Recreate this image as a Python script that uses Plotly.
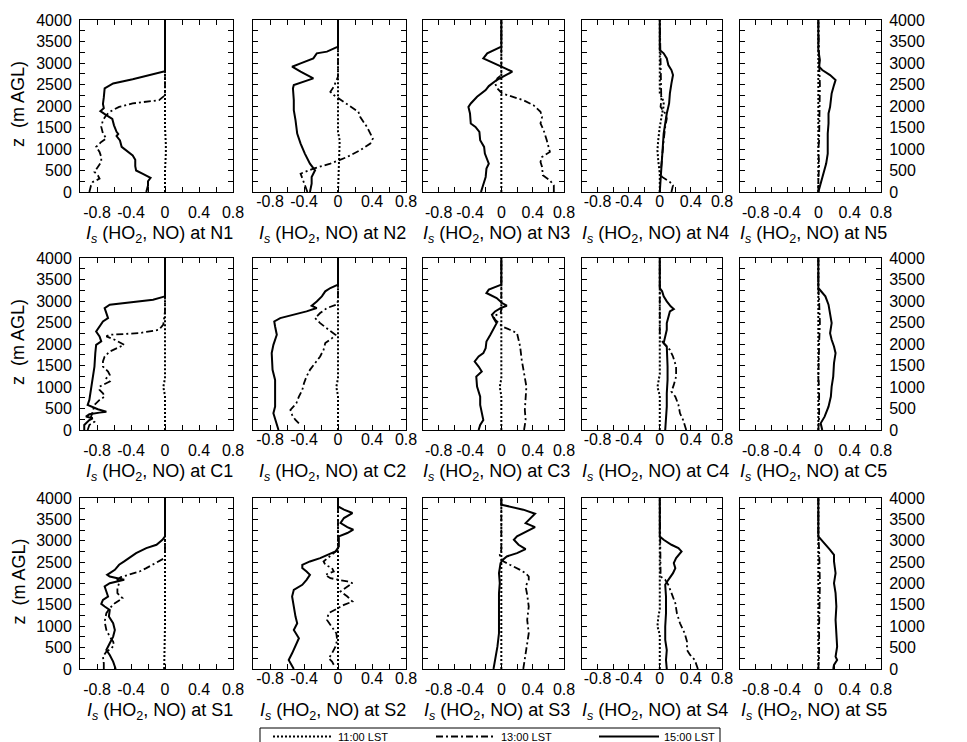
import plotly.graph_objects as go

# ---------------- data (height z in m AGL, I_s values) ----------------
TIMES = ["11:00 LST", "13:00 LST", "15:00 LST"]
ROW_NAMES = ["N", "C", "S"]
XTICKS = [-0.8, -0.4, 0, 0.4, 0.8]
XTICKTEXT = ["-0.8", "-0.4", "0", "0.4", "0.8"]
YTICKS = [0, 500, 1000, 1500, 2000, 2500, 3000, 3500, 4000]
YTICKTEXT = [str(v) for v in YTICKS]

# ---- N1
N1_z11 = [0, 500, 900, 1100, 1500, 4000]
N1_is11 = [0, 0, 0.01, 0.01, 0, 0]
N1_z13 = [0, 155, 233, 310, 388, 466, 583, 700, 816, 932, 1049, 1165, 1243, 1360, 1515, 1670, 1790, 1865, 1980, 2060, 2137, 2250, 4000]
N1_is13 = [-0.89, -0.87, -0.85, -0.77, -0.79, -0.83, -0.79, -0.75, -0.75, -0.77, -0.81, -0.75, -0.69, -0.73, -0.75, -0.73, -0.69, -0.65, -0.54, -0.38, -0.07, 0, 0]
N1_z15 = [0, 150, 250, 330, 420, 500, 600, 750, 850, 950, 1050, 1200, 1300, 1350, 1400, 1550, 1700, 1800, 1880, 1950, 2050, 2200, 2410, 2525, 2620, 2810, 4000]
N1_is15 = [-0.22, -0.20, -0.20, -0.17, -0.26, -0.34, -0.35, -0.35, -0.38, -0.44, -0.51, -0.53, -0.57, -0.55, -0.57, -0.60, -0.62, -0.70, -0.76, -0.72, -0.73, -0.72, -0.71, -0.61, -0.38, 0, 0]
# ---- N2
N2_z11 = [0, 1000, 1200, 1400, 4000]
N2_is11 = [0, 0.01, 0.02, 0, 0]
N2_z13 = [0, 117, 233, 350, 427, 544, 660, 816, 971, 1127, 1243, 1515, 1748, 1865, 1980, 2137, 2253, 2331, 2447, 2680, 4000]
N2_is13 = [-0.36, -0.38, -0.40, -0.42, -0.44, -0.29, -0.09, 0.11, 0.26, 0.38, 0.41, 0.34, 0.26, 0.24, 0.15, 0.03, -0.05, -0.09, -0.05, 0, 0]
N2_z15 = [0, 194, 350, 505, 660, 893, 1127, 1360, 1670, 1904, 2137, 2408, 2486, 2564, 2642, 2797, 2914, 2991, 3108, 3225, 3264, 3380, 4000]
N2_is15 = [-0.33, -0.31, -0.31, -0.27, -0.33, -0.39, -0.44, -0.48, -0.50, -0.52, -0.52, -0.53, -0.52, -0.39, -0.29, -0.44, -0.54, -0.44, -0.29, -0.25, -0.13, 0, 0]
# ---- N3
N3_z11 = [0, 4000]
N3_is11 = [0, 0]
N3_z13 = [0, 155, 272, 388, 583, 700, 816, 932, 1204, 1437, 1593, 1748, 1865, 2020, 2137, 2214, 2292, 2408, 2525, 2642, 2720, 4000]
N3_is13 = [0.67, 0.67, 0.62, 0.53, 0.52, 0.50, 0.52, 0.62, 0.58, 0.54, 0.50, 0.52, 0.50, 0.41, 0.28, 0.16, 0.01, -0.05, -0.08, -0.05, 0, 0]
N3_z15 = [0, 194, 350, 544, 660, 893, 1049, 1204, 1399, 1515, 1593, 1826, 1980, 2059, 2214, 2370, 2463, 2603, 2720, 2797, 2875, 2991, 3108, 3225, 3318, 3380, 4000]
N3_is15 = [-0.26, -0.23, -0.20, -0.19, -0.16, -0.21, -0.22, -0.27, -0.28, -0.33, -0.39, -0.40, -0.42, -0.39, -0.31, -0.20, -0.16, -0.06, 0.07, 0.14, 0.05, -0.10, -0.23, -0.18, -0.06, 0, 0]
# ---- N4
N4_z11 = [0, 427, 738, 971, 1204, 1515, 1826, 2000, 2100, 2300, 4000]
N4_is11 = [0, 0, -0.02, -0.03, -0.02, 0, 0.03, 0.05, 0.05, 0, 0]
N4_z13 = [0, 155, 233, 350, 427, 893, 1204, 1515, 1710, 1826, 1980, 2137, 3000, 4000]
N4_is13 = [0.15, 0.17, 0.13, 0.03, 0.01, 0.03, 0.05, 0.07, 0.09, 0.07, 0.01, 0.02, 0.01, 0]
N4_z15 = [0, 272, 583, 1049, 1360, 1593, 1826, 2059, 2292, 2525, 2720, 2836, 2953, 3108, 3225, 3302, 4000]
N4_is15 = [0, 0.01, 0.02, 0.03, 0.05, 0.07, 0.09, 0.12, 0.13, 0.15, 0.17, 0.15, 0.11, 0.09, 0.05, 0, 0]
# ---- N5
N5_z11 = [0, 4000]
N5_is11 = [0, 0]
N5_z13 = [0, 300, 600, 1000, 1200, 2000, 2500, 3000, 4000]
N5_is13 = [0, 0, 0.01, 0, 0.01, 0.02, 0.02, 0.01, 0]
N5_z15 = [0, 194, 350, 505, 660, 893, 1127, 1360, 1593, 1826, 1980, 2292, 2486, 2603, 2720, 2836, 2914, 3070, 3300, 4000]
N5_is15 = [0, 0.03, 0.05, 0.08, 0.10, 0.12, 0.12, 0.12, 0.13, 0.13, 0.15, 0.17, 0.20, 0.22, 0.15, 0.05, 0.01, 0.02, 0, 0]

# ---- C1
C1_z11 = [0, 800, 1000, 1200, 4000]
C1_is11 = [0, 0, -0.02, 0, 0]
C1_z13 = [0, 117, 194, 311, 427, 583, 699, 777, 855, 932, 1010, 1127, 1204, 1282, 1360, 1476, 1593, 1710, 1826, 1904, 1981, 2098, 2176, 2214, 2253, 2331, 2450, 2758, 4000]
C1_is13 = [-0.91, -0.89, -0.83, -0.87, -0.85, -0.83, -0.77, -0.71, -0.73, -0.77, -0.77, -0.65, -0.69, -0.65, -0.67, -0.73, -0.73, -0.71, -0.65, -0.56, -0.48, -0.59, -0.69, -0.65, -0.30, -0.07, -0.02, 0, 0]
C1_z15 = [0, 117, 233, 272, 311, 365, 404, 427, 482, 544, 583, 699, 932, 1165, 1476, 1787, 1981, 2059, 2176, 2292, 2408, 2525, 2603, 2720, 2836, 2914, 2968, 3030, 3108, 4000]
C1_is15 = [-0.95, -0.95, -0.89, -0.85, -0.93, -0.89, -0.77, -0.69, -0.79, -0.87, -0.91, -0.89, -0.87, -0.85, -0.83, -0.82, -0.81, -0.75, -0.77, -0.81, -0.77, -0.73, -0.67, -0.69, -0.71, -0.65, -0.38, -0.14, 0, 0]
# ---- C2
C2_z11 = [0, 800, 1000, 1200, 4000]
C2_is11 = [0, 0, -0.02, 0, 0]
C2_z13 = [155, 233, 350, 466, 622, 777, 932, 1088, 1243, 1399, 1554, 1710, 1865, 2020, 2137, 2214, 2331, 2486, 2603, 2720, 2836, 2914, 3000, 4000]
C2_is13 = [-0.46, -0.50, -0.54, -0.56, -0.49, -0.46, -0.42, -0.40, -0.37, -0.33, -0.27, -0.21, -0.17, -0.15, -0.07, -0.03, -0.11, -0.21, -0.27, -0.21, -0.13, -0.02, 0, 0]
C2_z15 = [0, 233, 388, 544, 855, 1165, 1399, 1787, 1981, 2214, 2408, 2525, 2603, 2680, 2758, 2836, 2890, 2991, 3108, 3225, 3302, 3380, 4000]
C2_is15 = [-0.70, -0.74, -0.76, -0.74, -0.74, -0.74, -0.77, -0.78, -0.76, -0.72, -0.74, -0.75, -0.68, -0.52, -0.37, -0.25, -0.31, -0.25, -0.19, -0.15, -0.09, 0, 0]
# ---- C3
C3_z11 = [0, 800, 1000, 1200, 4000]
C3_is11 = [0, 0, -0.02, 0, 0]
C3_z13 = [0, 233, 466, 699, 1010, 1321, 1632, 1942, 2137, 2253, 2331, 2408, 2486, 2564, 2642, 2720, 2797, 4000]
C3_is13 = [0.29, 0.31, 0.30, 0.31, 0.32, 0.29, 0.26, 0.24, 0.22, 0.20, 0.11, 0.01, -0.03, -0.08, -0.10, -0.01, 0, 0]
C3_z15 = [0, 117, 233, 388, 583, 777, 1010, 1243, 1360, 1476, 1593, 1710, 1787, 1904, 2059, 2214, 2370, 2486, 2603, 2680, 2758, 2836, 2890, 2952, 3069, 3186, 3263, 3341, 3380, 4000]
C3_is15 = [-0.29, -0.27, -0.23, -0.25, -0.27, -0.27, -0.31, -0.32, -0.25, -0.29, -0.34, -0.29, -0.23, -0.20, -0.19, -0.14, -0.10, -0.06, -0.10, -0.12, -0.08, -0.01, 0.07, 0.01, -0.06, -0.19, -0.16, -0.06, 0, 0]
# ---- C4
C4_z11 = [0, 800, 1000, 1100, 1300, 4000]
C4_is11 = [0, 0, -0.03, -0.02, 0, 0]
C4_z13 = [0, 117, 233, 388, 583, 777, 894, 1049, 1243, 1476, 1710, 1865, 1981, 2098, 2176, 4000]
C4_is13 = [0.34, 0.32, 0.30, 0.26, 0.24, 0.20, 0.15, 0.18, 0.21, 0.21, 0.17, 0.13, 0.07, 0.01, 0, 0]
C4_z15 = [0, 233, 544, 855, 1165, 1476, 1787, 1942, 2020, 2176, 2331, 2486, 2642, 2758, 2813, 2875, 2991, 3108, 3225, 3302, 4000]
C4_is15 = [0.07, 0.08, 0.09, 0.09, 0.10, 0.10, 0.09, 0.09, 0.05, 0.07, 0.09, 0.09, 0.11, 0.13, 0.18, 0.14, 0.09, 0.05, 0.03, 0, 0]
# ---- C5
C5_z11 = [0, 4000]
C5_is11 = [0, 0]
C5_z13 = [0, 300, 1000, 1200, 2000, 2500, 3000, 3300, 4000]
C5_is13 = [0, 0.01, 0.01, 0, 0.01, 0.02, 0.01, 0, 0]
C5_z15 = [0, 155, 311, 544, 777, 1010, 1243, 1554, 1787, 1942, 2098, 2253, 2486, 2720, 2914, 3108, 3225, 3302, 4000]
C5_is15 = [0.05, 0.03, 0.08, 0.13, 0.16, 0.17, 0.19, 0.20, 0.22, 0.20, 0.17, 0.15, 0.17, 0.15, 0.13, 0.09, 0.03, 0, 0]

# ---- S1
S1_z11 = [0, 1000, 4000]
S1_is11 = [-0.01, 0, 0]
S1_z13 = [0, 133, 289, 406, 484, 563, 641, 758, 914, 1109, 1305, 1422, 1539, 1656, 1773, 1891, 2008, 2086, 2148, 2203, 2281, 2360, 2477, 2600, 4000]
S1_is13 = [-0.72, -0.72, -0.73, -0.69, -0.63, -0.60, -0.61, -0.65, -0.69, -0.71, -0.69, -0.65, -0.59, -0.50, -0.56, -0.56, -0.54, -0.56, -0.52, -0.44, -0.30, -0.22, -0.11, 0, 0]
S1_z15 = [0, 172, 328, 445, 602, 758, 914, 1070, 1227, 1383, 1461, 1523, 1617, 1695, 1813, 1930, 2008, 2047, 2086, 2164, 2203, 2320, 2438, 2516, 2594, 2711, 2828, 2906, 3023, 3100, 4000]
S1_is15 = [-0.58, -0.61, -0.65, -0.69, -0.65, -0.61, -0.59, -0.61, -0.66, -0.65, -0.71, -0.75, -0.73, -0.67, -0.69, -0.71, -0.65, -0.54, -0.48, -0.65, -0.68, -0.59, -0.54, -0.48, -0.42, -0.34, -0.22, -0.10, -0.03, 0, 0]
# ---- S2
S2_z11 = [0, 4000]
S2_is11 = [0, 0]
S2_z13 = [100, 172, 250, 367, 523, 680, 836, 992, 1148, 1305, 1422, 1500, 1578, 1695, 1813, 1930, 2008, 2047, 2125, 2203, 2281, 2360, 2438, 2516, 2633, 2711, 2789, 4000]
S2_is13 = [-0.05, -0.07, -0.11, -0.07, -0.03, -0.01, -0.02, -0.07, -0.13, -0.11, -0.01, 0.07, 0.17, 0.11, 0.03, 0.11, 0.17, 0.11, -0.09, -0.15, -0.05, -0.07, -0.15, -0.17, -0.09, -0.05, 0, 0]
S2_z15 = [0, 211, 367, 602, 719, 914, 1070, 1227, 1461, 1695, 1852, 1969, 2086, 2203, 2281, 2360, 2438, 2516, 2594, 2672, 2750, 2867, 3023, 3101, 3180, 3258, 3320, 3414, 3531, 3648, 3727, 3805, 4000]
S2_is15 = [-0.52, -0.58, -0.54, -0.48, -0.46, -0.52, -0.48, -0.50, -0.52, -0.54, -0.52, -0.42, -0.37, -0.33, -0.37, -0.42, -0.42, -0.33, -0.21, -0.11, -0.03, 0.01, 0.01, 0.01, 0.11, 0.18, 0.11, 0.03, 0.07, 0.17, 0.07, 0, 0]
# ---- S3
S3_z11 = [0, 4000]
S3_is11 = [0, 0]
S3_z13 = [0, 367, 523, 836, 1148, 1461, 1734, 1930, 2086, 2164, 2242, 2320, 2438, 2516, 2594, 2672, 2789, 4000]
S3_is13 = [0.28, 0.31, 0.33, 0.35, 0.33, 0.35, 0.33, 0.31, 0.35, 0.35, 0.31, 0.24, 0.11, 0.03, -0.01, -0.02, 0, 0]
S3_z15 = [0, 211, 523, 836, 1148, 1461, 1773, 2008, 2242, 2360, 2477, 2555, 2633, 2711, 2805, 2906, 3023, 3101, 3219, 3320, 3414, 3531, 3633, 3727, 3805, 3844, 4000]
S3_is15 = [-0.10, -0.08, -0.05, -0.03, -0.03, -0.03, -0.03, -0.02, -0.03, -0.02, -0.01, 0.02, 0.07, 0.20, 0.31, 0.22, 0.16, 0.20, 0.33, 0.43, 0.31, 0.37, 0.43, 0.28, 0.11, 0, 0]
# ---- S4
S4_z11 = [0, 800, 1000, 1200, 1400, 4000]
S4_is11 = [0, 0, -0.03, -0.02, 0, 0]
S4_z13 = [0, 133, 211, 328, 445, 641, 836, 1070, 1305, 1539, 1773, 1969, 2086, 2164, 2300, 4000]
S4_is13 = [0.49, 0.47, 0.45, 0.39, 0.35, 0.35, 0.32, 0.26, 0.22, 0.20, 0.15, 0.11, 0.07, 0.01, 0.01, 0]
S4_z15 = [0, 211, 445, 680, 992, 1305, 1695, 1969, 2086, 2242, 2360, 2477, 2594, 2672, 2750, 2828, 2906, 3023, 3101, 4000]
S4_is15 = [0.09, 0.08, 0.09, 0.07, 0.07, 0.08, 0.08, 0.07, 0.11, 0.17, 0.20, 0.18, 0.21, 0.25, 0.28, 0.24, 0.15, 0.05, 0, 0]
# ---- S5
S5_z11 = [0, 4000]
S5_is11 = [0, 0]
S5_z13 = [0, 300, 1000, 2000, 2800, 3100, 4000]
S5_is13 = [0, 0.01, 0.01, 0.02, 0.01, 0, 0]
S5_z15 = [0, 94, 211, 289, 523, 836, 1148, 1461, 1773, 2008, 2242, 2516, 2672, 2789, 2906, 3023, 3101, 4000]
S5_is15 = [0.19, 0.20, 0.24, 0.22, 0.24, 0.23, 0.22, 0.23, 0.22, 0.20, 0.22, 0.20, 0.20, 0.15, 0.09, 0.03, 0, 0]

# ---------------- layout geometry (pixels) ----------------
W, H = 967, 742
COL_PX = [(80, 233), (253, 406), (423, 564), (582, 722), (740, 881)]
ROW_PX = [(20, 192), (258, 430), (498, 669)]

STYLES = [
    dict(color="black", width=2, dash="2px,2px"),
    dict(color="black", width=1.8, dash="7px,3px,2px,3px"),
    dict(color="black", width=2, dash="solid"),
]
SUFFIX = ["11", "13", "15"]

FONT = "Arial, 'Liberation Sans', sans-serif"
fig = go.Figure()
g = globals()
annotations = []
layout_axes = {}

for r, rn in enumerate(ROW_NAMES):
    yt, yb = ROW_PX[r]
    for c in range(5):
        st = f"{rn}{c + 1}"
        n = r * 5 + c + 1
        xs = "" if n == 1 else str(n)
        x0, x1 = COL_PX[c]
        for k in range(3):
            fig.add_trace(go.Scatter(
                x=g[f"{st}_is{SUFFIX[k]}"], y=g[f"{st}_z{SUFFIX[k]}"],
                mode="lines", line=STYLES[k], name=TIMES[k],
                legendgroup=TIMES[k], showlegend=(n == 1),
                xaxis="x" + xs, yaxis="y" + xs, hoverinfo="skip"))
        low = c in (0, 2, 4)
        layout_axes["xaxis" + xs] = dict(
            domain=[x0 / W, x1 / W], anchor="y" + xs, range=[-1, 0.8],
            tickmode="array", tickvals=XTICKS, ticktext=XTICKTEXT,
            ticks="inside", ticklen=5, tickcolor="black",
            minor=dict(dtick=0.2, tick0=0, ticks="inside", ticklen=5, tickcolor="black"),
            showline=True, linecolor="black", linewidth=1, mirror="ticks",
            showgrid=False, zeroline=False,
            tickfont=dict(size=16, color="black", family=FONT),
            ticklabelstandoff=6 if low else -5,
        )
        layout_axes["yaxis" + xs] = dict(
            domain=[1 - yb / H, 1 - yt / H], anchor="x" + xs, range=[0, 4000],
            tickmode="array", tickvals=YTICKS, ticktext=YTICKTEXT,
            ticks="inside", ticklen=5, tickcolor="black",
            minor=dict(dtick=250, tick0=0, ticks="inside", ticklen=5, tickcolor="black"),
            showline=True, linecolor="black", linewidth=1, mirror="ticks",
            showgrid=False, zeroline=False,
            tickfont=dict(size=16, color="black", family=FONT),
            showticklabels=(c == 0 or c == 4),
            side="right" if c == 4 else "left",
            ticklabelstandoff=4,
        )
        annotations.append(dict(
            xref="paper", yref="paper", x=((x0 + x1) / 2 + 3) / W, y=1 - (yb + 42) / H,
            xanchor="center", yanchor="middle", showarrow=False,
            text=f"<i>I</i><sub><i>s</i></sub> (HO<sub>2</sub>, NO) at {st}",
            font=dict(size=18, color="black", family=FONT)))
    annotations.append(dict(
        xref="paper", yref="paper", x=18 / W, y=1 - ((yt + yb) / 2 - 2) / H,
        xanchor="center", yanchor="middle", showarrow=False, textangle=-90,
        text="z  (m AGL)", font=dict(size=18, color="black", family=FONT)))

fig.update_layout(**layout_axes)
fig.update_layout(
    width=W, height=H,
    margin=dict(l=0, r=0, t=0, b=0, autoexpand=False),
    paper_bgcolor="white", plot_bgcolor="white",
    font=dict(family=FONT, color="black"),
    annotations=annotations,
    shapes=[dict(type="rect", xref="paper", yref="paper",
                 x0=260 / W, x1=720 / W, y0=1 - 760 / H, y1=1 - 728 / H,
                 line=dict(color="black", width=1), fillcolor="rgba(0,0,0,0)", layer="below")],
    legend=dict(orientation="h", x=268 / W, xanchor="left", y=1 - 722 / H, yanchor="top",
                borderwidth=0, bgcolor="rgba(0,0,0,0)",
                font=dict(size=11, color="black", family=FONT),
                itemwidth=60, entrywidth=88, entrywidthmode="pixels",
                traceorder="normal"),
)
fig.write_html("out.html")
